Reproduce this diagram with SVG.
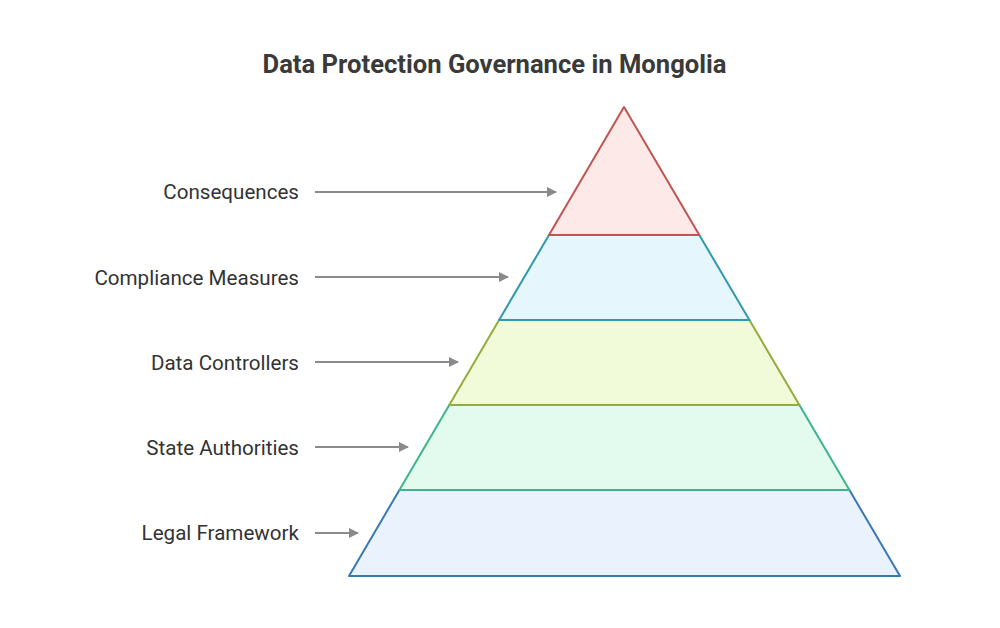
<svg xmlns="http://www.w3.org/2000/svg" width="1000" height="628" viewBox="0 0 1000 628">
<style>
.title{font-family:Roboto,"Liberation Sans",sans-serif;font-weight:bold;font-size:25.6px;fill:#3a3a3a;text-anchor:middle}
.lbl{font-family:Roboto,"Liberation Sans",sans-serif;font-size:20.6px;fill:#333;text-anchor:end}
.arr{stroke:#8a8a8a;stroke-width:2;fill:none;marker-end:url(#ah)}
.layer{stroke-width:2;stroke-linejoin:round}
</style>
<defs>
<marker id="ah" viewBox="0 0 10 10" refX="9" refY="5" markerWidth="5" markerHeight="5" orient="auto" markerUnits="strokeWidth">
<path d="M0,0 L10,5 L0,10 z" fill="#8a8a8a"/>
</marker>
</defs>
<rect width="1000" height="628" fill="#ffffff"/>
<text class="title" x="494.5" y="73">Data Protection Governance in Mongolia</text>
<g id="legal-framework">
<polygon class="layer" points="399.4,490 849.4,490 900,576 349,576" fill="#e9f2fd" stroke="#3a78b5"/>
<text class="lbl" x="299" y="540">Legal Framework</text>
</g>
<g id="state-authorities">
<polygon class="layer" points="449.3,405 799.4,405 849.4,490 399.4,490" fill="#e2fbee" stroke="#3cb58c"/>
<text class="lbl" x="299" y="455">State Authorities</text>
</g>
<g id="data-controllers">
<polygon class="layer" points="499.1,320 749.4,320 799.4,405 449.3,405" fill="#f2fbd9" stroke="#93ad3a"/>
<text class="lbl" x="299" y="370">Data Controllers</text>
</g>
<g id="compliance-measures">
<polygon class="layer" points="549,235 699.3,235 749.4,320 499.1,320" fill="#e6f6fd" stroke="#2f9aae"/>
<text class="lbl" x="299" y="285">Compliance Measures</text>
</g>
<g id="consequences">
<polygon class="layer" points="624,107 699.3,235 549,235" fill="#fde9e7" stroke="#bf5552"/>
<text class="lbl" x="299" y="199">Consequences</text>
</g>
<g id="connectors">
<line class="arr" x1="315" y1="192" x2="556" y2="192"/>
<line class="arr" x1="315" y1="277" x2="508" y2="277"/>
<line class="arr" x1="315" y1="362" x2="458" y2="362"/>
<line class="arr" x1="315" y1="447" x2="408" y2="447"/>
<line class="arr" x1="315" y1="533" x2="358" y2="533"/>
</g>
</svg>
